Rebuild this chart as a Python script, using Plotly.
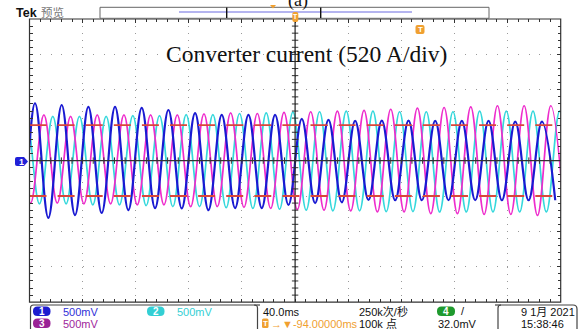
import plotly.graph_objects as go

# ---------------------------------------------------------------- data
# Three phase currents captured on a 4-channel scope, 40 ms/div, 10 divisions.
# Each channel is described by its positive peaks and negative troughs
# (in divisions), one per cycle, plus the timing of the first peak.
period_ms = 20.09
blue_first_peak_ms = 4.14          # CH1
phase_lag_ms = [0.0, 6.70, 13.39]  # CH1, CH3, CH2 (120 deg apart)

ch1_peaks = [1.57, 1.62, 1.57, 1.52, 1.52, 1.49, 1.43, 1.34, 1.29, 1.29,
             1.29, 1.18, 1.15, 1.12, 1.13, 1.13, 1.12, 1.12, 1.12, 1.10, 1.10]
ch1_troughs = [1.55, 1.58, 1.62, 1.54, 1.48, 1.40, 1.34, 1.35, 1.40, 1.34,
               1.34, 1.25, 1.20, 1.18, 1.11, 1.12, 1.12, 1.12, 1.12, 1.12, 1.12]

ch3_peaks = [1.29, 1.29, 1.25, 1.29, 1.29, 1.29, 1.29, 1.32, 1.35, 1.33,
             1.36, 1.38, 1.40, 1.42, 1.45, 1.48, 1.50, 1.52, 1.55, 1.55, 1.55]
ch3_troughs = [1.20, 1.20, 1.20, 1.22, 1.22, 1.25, 1.25, 1.30, 1.30, 1.32,
               1.35, 1.38, 1.40, 1.42, 1.45, 1.45, 1.50, 1.50, 1.52, 1.52, 1.55]

ch2_peaks = [1.25, 1.25, 1.25, 1.25, 1.27, 1.27, 1.30, 1.30, 1.33, 1.35,
             1.37, 1.38, 1.40, 1.40, 1.38, 1.38, 1.38, 1.40, 1.40, 1.40, 1.40]
ch2_troughs = [1.22, 1.22, 1.22, 1.25, 1.25, 1.27, 1.30, 1.30, 1.33, 1.35,
               1.37, 1.40, 1.42, 1.42, 1.44, 1.44, 1.45, 1.45, 1.45, 1.45, 1.45]

ch_colors = {"CH1": "#1a1ad2", "CH2": "#35d8dc", "CH3": "#ee2ccc"}

# ---------------------------------------------------------------- geometry
W, H = 587, 329
GX0, GX1 = 29.5, 560.7     # graticule left / right (px)
GY0, GY1 = 19.0, 302.2     # graticule top / bottom (px)
X_RANGE = [0, 400]         # ms
Y_RANGE = [-4, 4]          # divisions
ms_per_px = 400 / (GX1 - GX0)
div_per_px = 8 / (GY1 - GY0)


def px(x):
    return x / W


def py(y):
    return 1 - y / H


def wave(peaks, troughs, first_peak):
    """Alternating trough / peak extremes, half a period apart."""
    t, v = [], []
    half = period_ms / 2
    for k in range(len(peaks)):
        tp = first_peak + k * period_ms
        t += [tp - half, tp]
        v += [-troughs[k], peaks[k]]
    t.append(first_peak + len(peaks) * period_ms - half)
    v.append(-troughs[-1])
    return t, v


fig = go.Figure()

series = [
    ("CH2", ch2_peaks, ch2_troughs, blue_first_peak_ms + phase_lag_ms[2] - period_ms, 1.7),
    ("CH3", ch3_peaks, ch3_troughs, blue_first_peak_ms + phase_lag_ms[1] - period_ms, 1.7),
    ("CH1", ch1_peaks, ch1_troughs, blue_first_peak_ms - period_ms, 2.2),
]
for name, pk, tr, t0, lw in series:
    t, v = wave(pk, tr, t0)
    fig.add_trace(go.Scatter(
        x=t, y=v, mode="lines", name=name,
        line=dict(color=ch_colors[name], width=lw, shape="spline", smoothing=1.09),
        hoverinfo="skip", showlegend=False))

# centre crosshair ticks (every 1/5 division)
tx, ty = [], []
hx = 3.2 * ms_per_px
hy = 3.2 * div_per_px
for i in range(1, 50):
    x = i * 8
    tx += [x, x, None]
    ty += [-hy, hy, None]
for i in range(1, 40):
    y = -4 + i * 0.2
    tx += [200 - hx, 200 + hx, None]
    ty += [y, y, None]
fig.add_trace(go.Scatter(x=tx, y=ty, mode="lines",
                         line=dict(color="#333333", width=1),
                         hoverinfo="skip", showlegend=False))

shapes = []
# centre lines
shapes.append(dict(type="line", xref="x", yref="y", x0=200, x1=200, y0=-4, y1=4,
                   line=dict(color="#222222", width=1.2), layer="above"))
shapes.append(dict(type="line", xref="x", yref="y", x0=0, x1=400, y0=0, y1=0,
                   line=dict(color="#333333", width=1.2), layer="above"))
# reference cursors
for yv in (1, -1):
    shapes.append(dict(type="line", xref="x", yref="y", x0=0, x1=400, y0=yv, y1=yv,
                       line=dict(color="#d9463a", width=1.8, dash="17px,11.1px"),
                       layer="above"))
# graticule frame
shapes.append(dict(type="rect", xref="x domain", yref="y domain", x0=0, x1=1, y0=0, y1=1,
                   line=dict(color="#333333", width=1.2), layer="above"))


def rrect(x0, y0, x1, y1, r, fill, line=None, lw=1):
    p = (f"M {px(x0 + r)},{py(y0)} L {px(x1 - r)},{py(y0)} "
         f"Q {px(x1)},{py(y0)} {px(x1)},{py(y0 + r)} L {px(x1)},{py(y1 - r)} "
         f"Q {px(x1)},{py(y1)} {px(x1 - r)},{py(y1)} L {px(x0 + r)},{py(y1)} "
         f"Q {px(x0)},{py(y1)} {px(x0)},{py(y1 - r)} L {px(x0)},{py(y0 + r)} "
         f"Q {px(x0)},{py(y0)} {px(x0 + r)},{py(y0)} Z")
    return dict(type="path", xref="paper", yref="paper", path=p,
                fillcolor=fill, line=dict(color=line or fill, width=lw if line else 0),
                layer="above")


# record view bar at the top
shapes.append(dict(type="rect", xref="paper", yref="paper",
                   x0=px(100), x1=px(489), y0=py(18.3), y1=py(7.3),
                   line=dict(color="#666666", width=1), fillcolor="white"))
shapes.append(dict(type="line", xref="paper", yref="paper",
                   x0=px(179), x1=px(412), y0=py(12), y1=py(12),
                   line=dict(color="#6a6ae0", width=1.2)))
for xb in (226.7, 320.7):
    shapes.append(dict(type="line", xref="paper", yref="paper",
                       x0=px(xb), x1=px(xb), y0=py(7.5), y1=py(18),
                       line=dict(color="#111111", width=1.4)))
shapes.append(dict(type="path", xref="paper", yref="paper",
                   path=f"M {px(270)},{py(5)} L {px(276)},{py(5)} L {px(273)},{py(8.5)} Z",
                   fillcolor="#f0a030", line=dict(width=0)))
# trigger position marker on the top ruler
shapes.append(rrect(292.3, 12, 298.3, 22, 2, "#f0a030"))
# trigger marker in the graticule
shapes.append(rrect(415.5, 25, 424.5, 34, 2, "#f0a030"))
# channel 1 ground marker
shapes.append(dict(type="path", xref="paper", yref="paper",
                   path=(f"M {px(17)},{py(157)} L {px(24)},{py(157)} L {px(28)},{py(161.5)} "
                         f"L {px(24)},{py(166)} L {px(17)},{py(166)} "
                         f"Q {px(15)},{py(166)} {px(15)},{py(164)} L {px(15)},{py(159)} "
                         f"Q {px(15)},{py(157)} {px(17)},{py(157)} Z"),
                   fillcolor="#2020d8", line=dict(width=0), layer="above"))

# status bar frames
box_line = dict(color="#444444", width=1.2)
shapes.append(dict(type="path", xref="paper", yref="paper",
                   path=(f"M {px(30.5)},{py(332)} L {px(30.5)},{py(308)} "
                         f"Q {px(30.5)},{py(305)} {px(33.5)},{py(305)} L {px(254)},{py(305)} "
                         f"Q {px(257.5)},{py(305)} {px(257.5)},{py(308)} L {px(257.5)},{py(332)}"),
                   line=box_line))
shapes.append(dict(type="line", xref="paper", yref="paper",
                   x0=px(254), x1=px(260), y0=py(305), y1=py(305), line=box_line))
shapes.append(dict(type="path", xref="paper", yref="paper",
                   path=(f"M {px(498)},{py(332)} L {px(498)},{py(308)} "
                         f"Q {px(498)},{py(305)} {px(501)},{py(305)} L {px(573)},{py(305)} "
                         f"Q {px(577)},{py(305)} {px(577)},{py(309)} L {px(577)},{py(332)}"),
                   line=box_line))
shapes.append(dict(type="line", xref="paper", yref="paper",
                   x0=px(495), x1=px(501), y0=py(305), y1=py(305), line=box_line))

# channel badges
badges = [
    (33, 306.5, 50.5, 316, "#1c1cd0", "1"),
    (147, 306.5, 164.5, 316, "#33cfd4", "2"),
    (33, 318.5, 50.5, 328, "#9a2296", "3"),
    (437, 306.5, 455, 316, "#1f9a2e", "4"),
]
for x0, y0, x1, y1, c, _ in badges:
    shapes.append(rrect(x0, y0, x1, y1, 4.5, c))
shapes.append(rrect(262, 318.5, 268.5, 328, 1.5, "#f0a030"))

annotations = []


def text(x, y, s, size=11, color="#111111", xanchor="left", family=None, bold=False):
    fam = family or "Liberation Sans, Noto Sans CJK SC, sans-serif"
    annotations.append(dict(xref="paper", yref="paper", x=px(x), y=py(y), text=s,
                            showarrow=False, xanchor=xanchor, yanchor="middle",
                            font=dict(size=size, color=color, family=fam),
                            borderpad=0))


for x0, y0, x1, y1, c, s in badges:
    text((x0 + x1) / 2, (y0 + y1) / 2 + 0.3, f"<b>{s}</b>", size=10, color="white",
         xanchor="center")
text(265.3, 323.5, "<b>T</b>", size=8, color="white", xanchor="center")
text(295.3, 17, "<b>T</b>", size=7, color="white", xanchor="center")
text(420, 29.7, "<b>T</b>", size=8, color="white", xanchor="center")
text(21, 161.5, "<b>1</b>", size=9, color="white", xanchor="center")

text(61.5, 311.5, "500mV", color="#3030d8")
text(175.5, 311.5, "500mV", color="#35cfd4")
text(61.5, 323.5, "500mV", color="#a0269c")
text(261.5, 311.5, "40.0ms")
text(269.5, 323.5, "→▼-94.00000ms", color="#f0a030")
text(358, 311.5, "250k次/秒")
text(358, 323.5, "100k 点")
text(460, 311, "/", size=11)
text(437, 323.5, "32.0mV")
text(575.5, 311.5, "9 1月 2021", xanchor="right")
text(520, 323.5, "15:38:46")

text(15, 12.5, "<b>Tek</b>", size=12.5, color="#111111")
text(40, 13, "预览", size=11.5, color="#777777")
text(298, 0.5, "(a)", size=18, color="#111111", xanchor="center",
     family="Liberation Serif, Times New Roman, serif")

text(306.5, 53.8, "Converter current (520 A/div)", size=23.5, color="#111111",
     xanchor="center", family="Liberation Serif, Times New Roman, serif")

fig.update_layout(
    width=W, height=H,
    margin=dict(l=0, r=0, t=0, b=0),
    paper_bgcolor="white", plot_bgcolor="white",
    shapes=shapes, annotations=annotations,
    xaxis=dict(domain=[px(GX0), px(GX1)], range=X_RANGE, dtick=40, tick0=0,
               showgrid=True, gridcolor="#9a9a9a", gridwidth=1, griddash="1px,6.08px",
               zeroline=False, showticklabels=False,
               ticks="inside", ticklen=3.5, tickcolor="#333333", mirror="allticks",
               minor=dict(dtick=8, ticks="inside", ticklen=3, tickcolor="#333333",
                          showgrid=False),
               fixedrange=True),
    yaxis=dict(domain=[py(GY1), py(GY0)], range=Y_RANGE, dtick=1, tick0=0,
               showgrid=True, gridcolor="#9a9a9a", gridwidth=1, griddash="1px,9.62px",
               zeroline=False, showticklabels=False,
               ticks="inside", ticklen=3.5, tickcolor="#333333", mirror="allticks",
               minor=dict(dtick=0.2, ticks="inside", ticklen=3, tickcolor="#333333",
                          showgrid=False),
               fixedrange=True),
)

fig.write_html("out.html")
